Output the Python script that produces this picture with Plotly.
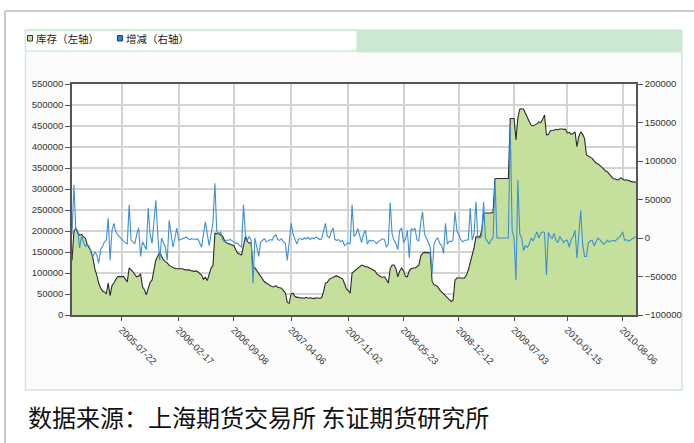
import pandas as pd
import plotly.graph_objects as go

# ---- data (weekly, in units of 1000 tons) ----
start_date = "2005-01-21"
tick_labels = ["2005-07-22", "2006-02-17", "2006-09-08", "2007-04-06", "2007-11-02",
               "2008-05-23", "2008-12-12", "2009-07-03", "2010-01-15", "2010-08-06"]

inventory_k = [
    130, 198, 207, 195, 190, 192, 186, 183, 168, 160,
    152, 135, 110, 95, 76, 65, 57, 55, 50, 76,
    46, 70, 76, 85, 91, 92, 91, 92, 86, 79,
    112, 108, 103, 96, 91, 93, 98, 67, 60, 48,
    65, 78, 83, 105, 131, 140, 150, 140, 131, 127,
    124, 118, 115, 113, 111, 110, 110, 109, 110, 108,
    107, 108, 106, 105, 104, 105, 103, 100, 95, 85,
    90, 82, 100, 112, 118, 195, 193, 195, 190, 188,
    178, 172, 170, 168, 167, 165, 155, 147, 145, 143,
    165, 186, 175, 171, 172, 115, 112, 105, 100, 92,
    85, 79, 76, 72, 70, 68, 67, 70, 66, 65,
    64, 58, 52, 30, 28, 50, 52, 44, 42, 42,
    40, 41, 40, 42, 40, 41, 40, 39, 41, 40,
    40, 41, 55, 76, 78, 85, 88, 89, 92, 93,
    90, 88, 86, 75, 62, 58, 52, 100, 104, 108,
    112, 115, 119, 117, 115, 115, 112, 110, 107, 105,
    98, 94, 91, 90, 91, 84, 76, 110, 119, 119,
    110, 91, 105, 112, 105, 92, 91, 105, 110, 112,
    112, 115, 118, 140, 147, 149, 149, 149, 148, 80,
    72, 70, 67, 60, 55, 52, 45, 40, 36, 32,
    35, 83, 88, 88, 87, 88, 88, 95, 107, 125,
    143, 160, 186, 186, 186, 200, 243, 243, 243, 243,
    243, 245, 325, 325, 325, 325, 325, 325, 325, 325,
    468, 468, 468, 417, 470, 490, 491, 490, 478, 470,
    460, 452, 450, 452, 455, 460, 458, 466, 476, 429,
    430, 438, 440, 440, 442, 441, 443, 443, 443, 442,
    433, 435, 430, 432, 436, 401, 425, 436, 430, 420,
    381, 378, 376, 373, 367, 362, 360, 357, 352, 348,
    343, 341, 335, 330, 325, 324, 322, 322, 327, 324,
    321, 322, 320, 318, 317, 317, 316,
]

change_k = [
    5, 69, 10, 10, -13, 2, -5, -11, -8, -11,
    -20, -24, -18, -22, -33, -15, -11, -5, -3, 26,
    -29, 10, 19, 8, 4, 1, -2, -4, -6, -8,
    43, -3, -5, -7, 5, 13, -24, -5, -10, -15,
    39, 5, -7, 20, 49, 5, -29, 0, -5, -12,
    -29, 23, 5, -12, 0, 13, -3, -2, -1, 0,
    1, -1, -2, -1, -2, -2, -1, -6, -12, 5,
    21, 5, -10, 5, 21, 71, 8, 5, 8, -2,
    -5, -3, -3, -2, -3, -5, -7, -7, -10, -12,
    43, 5, -3, 2, -3, -59, 0, -10, -24, -5,
    -3, -1, -5, -3, -2, -3, 2, 4, -2, -3,
    -1, -5, -7, -29, -5, 19, 5, -3, -8, -1,
    -1, -2, 0, -1, 1, -2, 0, -1, 1, 0,
    -2, -1, 8, 19, 3, 0, 8, 13, -2, -3,
    -2, -5, -3, -10, -8, -6, -8, 43, 2, 5,
    12, 3, -6, 5, 10, -8, -3, -4, -3, -5,
    -7, -4, -3, -1, -2, -12, -8, 46, 5, -3,
    -7, -15, 10, 13, -6, -2, 10, -26, 12, 10,
    13, -2, -4, 20, 34, 5, 0, -5, -12, -46,
    -8, -2, 0, -7, -10, -20, 19, -8, -4, -5,
    -2, 34, 10, 4, -2, -5, -3, -3, -2, 39,
    -3, 5, 47, 0, 0, 2, 47, 0, -5, -8,
    -2, 0, 78, 0, 0, 0, 0, 0, 0, 0,
    145, 10, 0, -55, 75, 5, 0, -16, -10, -12,
    -8, 0, -4, 3, 8, 0, 6, 8, 7, -48,
    7, 2, -1, 6, -3, -6, 2, -2, -6, -3,
    -3, -12, -2, 2, 10, -26, 5, 36, -8, -24,
    -24, -6, -4, -3, -10, -4, 0, -2, -5, -8,
    -6, -3, -5, -4, -3, -4, -2, 1, 3, 8,
    -3, -2, -4, -3, -1, 0, 2,
]

inventory = [v * 1000 for v in inventory_k]
change = [v * 1000 for v in change_k]
dates = pd.date_range(start_date, periods=len(inventory), freq="7D")

# ---- figure geometry (pixels) ----
W, H = 694, 443
L, R, T, B = 72, 636, 84, 315


def px(xp):
    return (xp - L) / (R - L)


def py(yp):
    return (B - yp) / (B - T)


fig = go.Figure()
fig.add_trace(go.Scatter(
    x=dates, y=inventory, name="库存（左轴）", mode="lines",
    line=dict(color="#2b2b2b", width=1.1), fill="tozeroy",
    fillcolor="#c5df9c", showlegend=False, yaxis="y"))
fig.add_trace(go.Scatter(
    x=dates, y=change, name="增减（右轴）", mode="lines",
    line=dict(color="#3d8fd6", width=1.1), showlegend=False, yaxis="y2"))

tick_font = dict(family="Liberation Sans, Arial, sans-serif", size=9.5, color="#333333")

shapes = [
    # outer frame
    dict(type="line", xref="paper", yref="paper", x0=px(5), x1=px(694), y0=py(11), y1=py(11),
         line=dict(color="#c9c9c9", width=2), layer="below"),
    dict(type="line", xref="paper", yref="paper", x0=px(5), x1=px(5), y0=py(11), y1=py(443),
         line=dict(color="#c9c9c9", width=2), layer="below"),
    # panel
    dict(type="rect", xref="paper", yref="paper", x0=px(25.5), x1=px(682), y0=py(30), y1=py(390),
         line=dict(color="#cfe8d2", width=1.5), fillcolor="#fcfcfc", layer="below"),
    dict(type="rect", xref="paper", yref="paper", x0=px(357), x1=px(682), y0=py(30), y1=py(52.5),
         line=dict(width=0), fillcolor="#cde8d0", layer="below"),
    dict(type="rect", xref="paper", yref="paper", x0=px(25.5), x1=px(357), y0=py(30.5), y1=py(51),
         line=dict(color="#d2ebd5", width=1.5), fillcolor="#ffffff", layer="below"),
    # plot area
    dict(type="rect", xref="paper", yref="paper", x0=0, x1=1, y0=0, y1=1,
         line=dict(width=0), fillcolor="#ffffff", layer="below"),
    # legend symbols
    dict(type="rect", xref="paper", yref="paper", x0=px(27.5), x1=px(32.5), y0=py(35.5), y1=py(41),
         line=dict(color="#333333", width=1), fillcolor="#c5df9c"),
    dict(type="rect", xref="paper", yref="paper", x0=px(117.5), x1=px(122.5), y0=py(35.5), y1=py(41),
         line=dict(color="#1d3f66", width=1), fillcolor="#2f86d0"),
]

cjk = "Noto Sans CJK SC, sans-serif"
annotations = [
    dict(text="库存（左轴）", xref="paper", yref="paper", x=px(34), y=py(38.5),
         xanchor="left", yanchor="middle", showarrow=False,
         font=dict(family=cjk, size=10.5, color="#222222")),
    dict(text="增减（右轴）", xref="paper", yref="paper", x=px(124), y=py(38.5),
         xanchor="left", yanchor="middle", showarrow=False,
         font=dict(family=cjk, size=10.5, color="#222222")),
    dict(text="数据来源：上海期货交易所 东证期货研究所", xref="paper", yref="paper",
         x=px(26), y=py(416), xanchor="left", yanchor="middle", showarrow=False,
         font=dict(family=cjk, size=24, color="#111111")),
]

fig.update_layout(
    width=W, height=H, autosize=False,
    margin=dict(l=L, r=W - R, t=T, b=H - B, pad=0),
    paper_bgcolor="#ffffff", plot_bgcolor="rgba(0,0,0,0)",
    showlegend=False,
    shapes=shapes, annotations=annotations,
    xaxis=dict(
        type="date", range=[dates[0], dates[-1]],
        tickmode="array", tickvals=pd.to_datetime(tick_labels), ticktext=tick_labels,
        tickangle=45, tickfont=tick_font,
        ticks="outside", ticklen=4, tickcolor="#555555",
        showgrid=True, gridcolor="#d3d3d3", gridwidth=1.5,
        showline=True, linecolor="#555555", linewidth=1.5, mirror=True,
        zeroline=False,
    ),
    yaxis=dict(
        range=[0, 550000], dtick=50000, tick0=0, tickformat="d",
        tickfont=tick_font, ticks="outside", ticklen=5, tickcolor="#555555",
        showgrid=True, gridcolor="#d3d3d3", gridwidth=2,
        showline=True, linecolor="#555555", linewidth=1.5, mirror=True,
        zeroline=False,
    ),
    yaxis2=dict(
        range=[-100000, 200000], dtick=50000, tick0=-100000, tickformat="d",
        overlaying="y", side="right",
        tickfont=tick_font, ticks="outside", ticklen=5, tickcolor="#555555",
        showgrid=False, showline=True, linecolor="#555555", linewidth=1.5,
        zeroline=False,
    ),
)

fig.write_html(
    "out.html",
    config={"displayModeBar": False},
    post_script="document.body.style.margin='0';document.body.style.overflow='hidden';",
)
